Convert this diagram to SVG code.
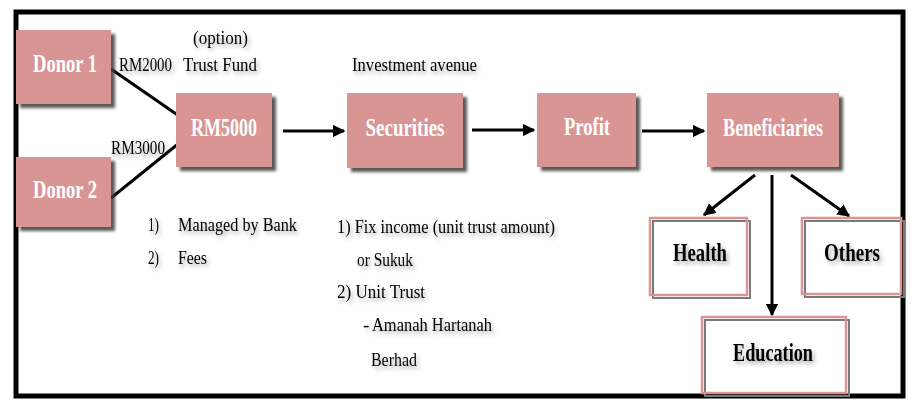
<svg xmlns="http://www.w3.org/2000/svg" width="914" height="407" viewBox="0 0 914 407">
<defs>
<style>
.box{fill:#d99594;filter:url(#sh)}
.obox{fill:none;stroke:#d99594;stroke-width:2.5}
.oshadow{fill:none;stroke:#7a7a7a;stroke-width:2}
.lbl{font-family:"Liberation Serif",serif;font-weight:bold;font-size:26px;fill:#fff;text-anchor:middle}
.blbl{font-family:"Liberation Serif",serif;font-weight:bold;font-size:26px;fill:#000;text-anchor:middle;filter:url(#tsh)}
.t{font-family:"Liberation Serif",serif;font-size:19px;fill:#000;filter:url(#tsh)}
.c{stroke:#000;stroke-width:3;fill:none}
.ca{stroke:#000;stroke-width:3;fill:none;marker-end:url(#ah)}
</style>
<filter id="sh" x="-20%" y="-20%" width="150%" height="150%">
<feDropShadow dx="4" dy="4" stdDeviation="1.5" flood-color="#3a3a3a" flood-opacity="0.85"/>
</filter>
<filter id="tsh" x="-20%" y="-30%" width="150%" height="180%">
<feDropShadow dx="2" dy="3" stdDeviation="2" flood-color="#000" flood-opacity="0.35"/>
</filter>
<marker id="ah" viewBox="0 0 10 10" refX="9" refY="5" markerWidth="4.2" markerHeight="4.2" orient="auto" markerUnits="strokeWidth">
<path d="M0,0 L10,5 L0,10 z" fill="#000"/>
</marker>
</defs>
<rect x="0" y="0" width="914" height="407" fill="#fff"/>
<rect x="16" y="12" width="887" height="384" fill="none" stroke="#000" stroke-width="5"/>

<g id="connectors">
<line class="c" x1="111" y1="69" x2="182" y2="118"/>
<line class="c" x1="111" y1="198" x2="178" y2="144"/>
<line class="ca" x1="283" y1="131" x2="344" y2="131"/>
<line class="ca" x1="472" y1="130" x2="534" y2="130"/>
<line class="ca" x1="642" y1="131" x2="704" y2="131"/>
<line class="ca" x1="755" y1="175" x2="704" y2="215"/>
<line class="ca" x1="772" y1="175" x2="772" y2="315"/>
<line class="ca" x1="791" y1="175" x2="849" y2="216"/>
</g>

<g id="donor1">
<rect class="box" x="16" y="30" width="95" height="74"/>
<text class="lbl" x="65" y="72" textLength="64" lengthAdjust="spacingAndGlyphs">Donor 1</text>
</g>
<g id="donor2">
<rect class="box" x="16" y="157" width="95" height="70"/>
<text class="lbl" x="65" y="198" textLength="64" lengthAdjust="spacingAndGlyphs">Donor 2</text>
</g>
<g id="rm5000">
<rect class="box" x="176" y="93" width="96" height="74"/>
<text class="lbl" x="224" y="136" textLength="66" lengthAdjust="spacingAndGlyphs">RM5000</text>
</g>
<g id="securities">
<rect class="box" x="347" y="93" width="116" height="75"/>
<text class="lbl" x="405" y="136" textLength="79" lengthAdjust="spacingAndGlyphs">Securities</text>
</g>
<g id="profit">
<rect class="box" x="537" y="93" width="99" height="74"/>
<text class="lbl" x="587" y="135" textLength="46" lengthAdjust="spacingAndGlyphs">Profit</text>
</g>
<g id="beneficiaries">
<rect class="box" x="707" y="93" width="132" height="74"/>
<text class="lbl" x="773" y="136" textLength="100" lengthAdjust="spacingAndGlyphs">Beneficiaries</text>
</g>
<g id="health">
<rect class="oshadow" x="653" y="221" width="97" height="77"/>
<rect class="obox" x="650" y="218" width="97" height="77"/>
<text class="blbl" x="700" y="261" textLength="54" lengthAdjust="spacingAndGlyphs">Health</text>
</g>
<g id="others">
<rect class="oshadow" x="805" y="221" width="99" height="76"/>
<rect class="obox" x="802" y="218" width="99" height="76"/>
<text class="blbl" x="852" y="261" textLength="56" lengthAdjust="spacingAndGlyphs">Others</text>
</g>
<g id="education">
<rect class="oshadow" x="705" y="320" width="144" height="76"/>
<rect class="obox" x="702" y="317" width="144" height="76"/>
<text class="blbl" x="773" y="361" textLength="80" lengthAdjust="spacingAndGlyphs">Education</text>
</g>

<g id="labels">
<text class="t" x="193" y="44" textLength="55" lengthAdjust="spacingAndGlyphs">(option)</text>
<text class="t" x="183" y="71" textLength="74" lengthAdjust="spacingAndGlyphs">Trust Fund</text>
<text class="t" x="119" y="71" textLength="53" lengthAdjust="spacingAndGlyphs">RM2000</text>
<text class="t" x="111" y="154" textLength="54" lengthAdjust="spacingAndGlyphs">RM3000</text>
<text class="t" x="352" y="71" textLength="125" lengthAdjust="spacingAndGlyphs">Investment avenue</text>
<text class="t" x="148" y="231" textLength="11" lengthAdjust="spacingAndGlyphs">1)</text>
<text class="t" x="178" y="231" textLength="119" lengthAdjust="spacingAndGlyphs">Managed by Bank</text>
<text class="t" x="148" y="264" textLength="11" lengthAdjust="spacingAndGlyphs">2)</text>
<text class="t" x="178" y="264" textLength="29" lengthAdjust="spacingAndGlyphs">Fees</text>
<text class="t" x="337" y="233" textLength="218" lengthAdjust="spacingAndGlyphs">1) Fix  income (unit trust amount)</text>
<text class="t" x="357" y="266" textLength="56" lengthAdjust="spacingAndGlyphs">or Sukuk</text>
<text class="t" x="337" y="298" textLength="88" lengthAdjust="spacingAndGlyphs">2) Unit Trust</text>
<text class="t" x="363" y="331">-</text>
<text class="t" x="372" y="331" textLength="120" lengthAdjust="spacingAndGlyphs">Amanah Hartanah</text>
<text class="t" x="371" y="366" textLength="46" lengthAdjust="spacingAndGlyphs">Berhad</text>
</g>
</svg>
